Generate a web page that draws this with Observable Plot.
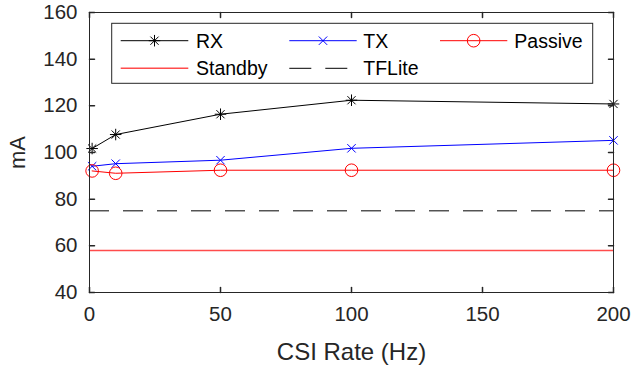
<!DOCTYPE html>
<html>
<head>
<meta charset="utf-8">
<script src="https://cdn.jsdelivr.net/npm/d3@7"></script>
<script src="https://cdn.jsdelivr.net/npm/@observablehq/plot@0.6"></script>
<style>
  body { margin: 0; background: #fff; }
  #chart svg { display: block; }
  g[aria-label="x-axis label"] text { font-size: 24px; }
  g[aria-label="y-axis label"] text { font-size: 22px; }
</style>
</head>
<body>
<div id="chart"></div>
<script>
// ---- data ----
const rates = [1, 10, 50, 100, 200];
const rxValues = [101.7, 107.7, 116.4, 122.4, 120.8];
const txValues = [94.1, 95.2, 96.7, 101.8, 105.2];
const passiveValues = [92.1, 91.1, 92.4, 92.4, 92.4];
const standbyValue = [58];
const tfliteValue = [75];
const xTicks = [0, 50, 100, 150, 200];
const yTicks = [40, 60, 80, 100, 120, 140, 160];
const seriesNames = ["RX", "TX", "Passive", "Standby", "TFLite"];

const rows = rates.map((r, i) => ({rate: r, rx: rxValues[i], tx: txValues[i], passive: passiveValues[i]}));

const axisColor = "#262626";
const tickShape = {draw(ctx, l) { ctx.moveTo(0, 0); ctx.lineTo(0, -l); }};
const tickLen = 5;

const plot = Plot.plot({
  width: 631,
  height: 366,
  marginLeft: 89,
  marginRight: 18,
  marginTop: 12,
  marginBottom: 74,
  style: {fontFamily: "'Liberation Sans', Arial, Helvetica, sans-serif", color: axisColor, background: "#fff", overflow: "visible"},
  x: {domain: [0, 200], ticks: xTicks},
  y: {domain: [40, 160], ticks: yTicks},
  marks: [
    Plot.frame({fill: "#fff"}),
    Plot.axisX({ticks: xTicks, tickSize: 0, tickPadding: 14, fontSize: 20.5, label: "CSI Rate (Hz)", labelAnchor: "center", labelArrow: "none", labelOffset: 67}),
    Plot.axisY({ticks: yTicks, tickSize: 0, tickPadding: 12, fontSize: 20.5, label: "mA", labelAnchor: "center", labelArrow: "none", labelOffset: 80}),
    // data
    Plot.line(rows, {x: "rate", y: "rx", stroke: "#000", strokeWidth: 1}),
    Plot.line(rows, {x: "rate", y: "tx", stroke: "#0000ff", strokeWidth: 1}),
    Plot.line(rows, {x: "rate", y: "passive", stroke: "#ff0000", strokeWidth: 1}),
    Plot.ruleY(standbyValue, {stroke: "#ff0000", strokeWidth: 1.6, strokeOpacity: 0.7}),
    Plot.ruleY(tfliteValue, {stroke: "#000", strokeWidth: 1, strokeDasharray: "20,14"}),
    Plot.dot(rows, {x: "rate", y: "rx", symbol: "plus", r: 3.8, stroke: "#000", strokeWidth: 1}),
    Plot.dot(rows, {x: "rate", y: "rx", symbol: "times", r: 3.8, stroke: "#000", strokeWidth: 1}),
    Plot.dot(rows, {x: "rate", y: "tx", symbol: "times", r: 3.9, stroke: "#0000ff", strokeWidth: 1}),
    Plot.dot(rows, {x: "rate", y: "passive", symbol: "circle", r: 6.3, stroke: "#ff0000", strokeWidth: 1, fill: "none"}),
    // inward ticks on all four sides
    Plot.vector(xTicks, {x: d => d, y: () => 40, length: tickLen, rotate: 0, anchor: "start", shape: tickShape, stroke: axisColor}),
    Plot.vector(xTicks, {x: d => d, y: () => 160, length: tickLen, rotate: 180, anchor: "start", shape: tickShape, stroke: axisColor}),
    Plot.vector(yTicks, {x: () => 0, y: d => d, length: tickLen, rotate: 90, anchor: "start", shape: tickShape, stroke: axisColor}),
    Plot.vector(yTicks, {x: () => 200, y: d => d, length: tickLen, rotate: -90, anchor: "start", shape: tickShape, stroke: axisColor}),
    Plot.frame({stroke: axisColor, strokeWidth: 1})
  ]
});

// ---- legend (layout overlay inside the plot area) ----
const svg = d3.select(plot);
const lg = svg.append("g").attr("class", "legend")
  .attr("font-family", "'Liberation Sans', Arial, Helvetica, sans-serif")
  .attr("font-size", 19.5).attr("text-anchor", "start");
lg.append("rect").attr("x", 111.7).attr("y", 23.3).attr("width", 481).attr("height", 60)
  .attr("fill", "#fff").attr("stroke", axisColor).attr("stroke-width", 1);
const cols = [{x0: 120.7, x1: 188.3, tx: 196}, {x0: 289.3, x1: 356.7, tx: 363.3}, {x0: 440, x1: 507.3, tx: 514.3}];
const rowsY = [40.7, 68.3];
const legendItems = [
  {name: seriesNames[0], color: "#000", dash: null, symbols: [[d3.symbolPlus, 3.8], [d3.symbolTimes, 3.8]], width: 1, opacity: 1},
  {name: seriesNames[1], color: "#0000ff", dash: null, symbols: [[d3.symbolTimes, 3.9]], width: 1, opacity: 1},
  {name: seriesNames[2], color: "#ff0000", dash: null, symbols: [[d3.symbolCircle, 6.3]], width: 1, opacity: 1},
  {name: seriesNames[3], color: "#ff0000", dash: null, symbols: [], width: 1.6, opacity: 0.7},
  {name: seriesNames[4], color: "#000", dash: "22,14", symbols: [], width: 1, opacity: 1}
];
legendItems.forEach((it, i) => {
  const c = cols[i % 3], y = rowsY[Math.floor(i / 3)];
  lg.append("line").attr("x1", c.x0).attr("x2", c.x1).attr("y1", y).attr("y2", y)
    .attr("stroke", it.color).attr("stroke-width", it.width).attr("stroke-opacity", it.opacity)
    .attr("stroke-dasharray", it.dash);
  it.symbols.forEach(([sym, r]) => {
    lg.append("path").attr("d", d3.symbol(sym, Math.PI * r * r)())
      .attr("transform", `translate(${(c.x0 + c.x1) / 2},${y})`)
      .attr("fill", "none").attr("stroke", it.color).attr("stroke-width", 1);
  });
  lg.append("text").attr("x", c.tx).attr("y", y + 7).attr("fill", "#000").attr("text-anchor", "start").text(it.name);
});

document.getElementById("chart").appendChild(plot);
</script>
</body>
</html>
